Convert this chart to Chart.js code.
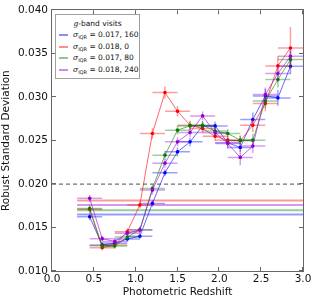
<!DOCTYPE html>
<html>
<head>
<meta charset="utf-8">
<script src="https://cdn.jsdelivr.net/npm/chart.js@4.4.0/dist/chart.umd.min.js"></script>
<style>
    html, body { margin: 0; padding: 0; background: #fff; }
    #wrap { position: relative; width: 314px; height: 304px; }
    #legend {
        position: absolute; left: 55px; top: 14px; width: 85px; height: 65px;
        box-sizing: border-box; border: 1px solid #a0a0a0; background: #fff;
        font-family: 'DejaVu Sans', sans-serif; font-size: 7.5px; color: #111;
    }
    #legend .title { position: absolute; left: 0; right: 0; top: 4px; text-align: center; }
    #legend .row { position: absolute; left: 3px; height: 9px; line-height: 9px; white-space: nowrap; }
    #legend .swatch { display: inline-block; width: 9px; height: 2px; vertical-align: middle; margin-right: 5px; opacity: 0.45; }
    #legend i { font-family: 'DejaVu Serif', serif; }
    #legend sub { font-size: 5px; vertical-align: -2px; line-height: 0; }
</style>
</head>
<body>
<div id="wrap">
    <canvas id="rsdChart" width="314" height="304"></canvas>
    <div id="legend">
        <div class="title"><i>g</i>-band visits</div>
    </div>
</div>
<script>
(function () {
    'use strict';

    // ── Data ────────────────────────────────────────────────
    const zBins      = [0.45, 0.60, 0.75, 0.90, 1.05, 1.20, 1.35, 1.50, 1.65, 1.80, 1.95, 2.10, 2.25, 2.40, 2.55, 2.70, 2.85];
    const zHalfWidth = 0.15;

    const blueVals   = [0.01624, 0.01300, 0.01318, 0.01368, 0.01400, 0.01778, 0.02130, 0.02371, 0.02486, 0.02670, 0.02670, 0.02475, 0.02422, 0.02744, 0.03015, 0.02992, 0.03356];
    const blueErr    = [0.0004, 0.0003, 0.0003, 0.0003, 0.0003, 0.0004, 0.0004, 0.0005, 0.0005, 0.0005, 0.0005, 0.0005, 0.0005, 0.0008, 0.0008, 0.0009, 0.0009];
    const redVals    = [0.01710, 0.01268, 0.01300, 0.01452, 0.01760, 0.02583, 0.03054, 0.02839, 0.02678, 0.02640, 0.02550, 0.02506, 0.02498, 0.02678, 0.02927, 0.03360, 0.03567];
    const redErr     = [0.0004, 0.0003, 0.0003, 0.0004, 0.0004, 0.0006, 0.0007, 0.0006, 0.0005, 0.0005, 0.0005, 0.0005, 0.0006, 0.0008, 0.0009, 0.0011, 0.0024];
    const greenVals  = [0.01720, 0.01290, 0.01287, 0.01390, 0.01475, 0.01950, 0.02333, 0.02621, 0.02670, 0.02678, 0.02610, 0.02583, 0.02506, 0.02506, 0.02957, 0.03203, 0.03433];
    const greenErr   = [0.0004, 0.0003, 0.0003, 0.0003, 0.0003, 0.0004, 0.0005, 0.0005, 0.0005, 0.0005, 0.0005, 0.0005, 0.0005, 0.0007, 0.0008, 0.0009, 0.0010];
    const purpleVals = [0.01836, 0.01372, 0.01340, 0.01435, 0.01471, 0.01931, 0.02241, 0.02486, 0.02594, 0.02785, 0.02590, 0.02468, 0.02307, 0.02437, 0.03031, 0.03272, 0.03471];
    const purpleErr  = [0.0004, 0.0003, 0.0003, 0.0003, 0.0004, 0.0005, 0.0005, 0.0005, 0.0005, 0.0005, 0.0006, 0.0006, 0.0009, 0.0008, 0.0008, 0.0010, 0.0011];

    const seriesNames  = ['0.017, 160', '0.018, 0', '0.017, 80', '0.018, 240'];
    const sigmaLevels  = [0.0165, 0.0181, 0.0170, 0.0176];   // blue, red, green, purple
    const sigmaLineZ   = [0.3, 3.0];
    const dashLevel    = 0.020;
    const dashLineZ    = [0.0, 3.0];

    const xTickVals = [0.0, 0.5, 1.0, 1.5, 2.0, 2.5, 3.0];
    const yTickVals = [0.010, 0.015, 0.020, 0.025, 0.030, 0.035, 0.040];

    const colors = ['#0000ff', '#ff0000', '#008000', '#9400d3'];
    const vals   = [blueVals, redVals, greenVals, purpleVals];
    const errs   = [blueErr, redErr, greenErr, purpleErr];

    function rgba(hex, a) {
        const n = parseInt(hex.slice(1), 16);
        return `rgba(${(n >> 16) & 255},${(n >> 8) & 255},${n & 255},${a})`;
    }

    // ── Datasets ────────────────────────────────────────────
    const datasets = [];

    // horizontal sigma_IQR reference lines (bottom layer)
    sigmaLevels.forEach((lvl, k) => {
        datasets.push({
            data: sigmaLineZ.map(z => ({ x: z, y: lvl })),
            borderColor: rgba(colors[k], 0.4),
            borderWidth: 2,
            pointRadius: 0,
            order: 20,
        });
    });

    // dashed 0.020 line
    datasets.push({
        data: dashLineZ.map(z => ({ x: z, y: dashLevel })),
        borderColor: 'rgba(0,0,0,0.7)',
        borderWidth: 1,
        borderDash: [4, 3],
        pointRadius: 0,
        order: 19,
    });

    // measured series: blue, red, green, purple (purple on top)
    vals.forEach((arr, k) => {
        datasets.push({
            data: arr.map((v, i) => ({ x: zBins[i], y: v })),
            yErr: errs[k],
            xErr: zHalfWidth,
            errColor: rgba(colors[k], 0.38),
            borderColor: rgba(colors[k], 0.6),
            borderWidth: 1,
            pointRadius: 1.8,
            pointBackgroundColor: colors[k],
            pointBorderWidth: 0,
            order: 10 - k,
        });
    });

    // ── Plugins: error bars + matplotlib-style frame ────────
    const errorBars = {
        id: 'errorBars',
        beforeDatasetDraw(chart, args) {
            const ds = chart.data.datasets[args.index];
            if (!ds.yErr) return;
            const { x, y } = chart.scales;
            const a   = chart.chartArea;
            const ctx = chart.ctx;
            ctx.save();
            ctx.beginPath();
            ctx.rect(a.left, a.top, a.width, a.height);
            ctx.clip();
            ctx.strokeStyle = ds.errColor;
            ctx.lineWidth   = 1.5;
            ds.data.forEach((p, i) => {
                const px = x.getPixelForValue(p.x);
                const py = y.getPixelForValue(p.y);
                ctx.beginPath();
                ctx.moveTo(x.getPixelForValue(p.x - ds.xErr), py);
                ctx.lineTo(x.getPixelForValue(p.x + ds.xErr), py);
                ctx.moveTo(px, y.getPixelForValue(p.y - ds.yErr[i]));
                ctx.lineTo(px, y.getPixelForValue(p.y + ds.yErr[i]));
                ctx.stroke();
            });
            ctx.restore();
        }
    };

    const frame = {
        id: 'frame',
        afterDraw(chart) {
            const { x, y } = chart.scales;
            const a   = chart.chartArea;
            const ctx = chart.ctx;
            const len = 4;
            ctx.save();
            ctx.strokeStyle = '#666';
            ctx.lineWidth   = 1;
            ctx.strokeRect(Math.round(a.left) - 0.5, Math.round(a.top) - 0.5,
                           Math.round(a.width) + 1, Math.round(a.height) + 1);
            ctx.beginPath();
            xTickVals.forEach(v => {
                const px = Math.round(x.getPixelForValue(v)) - 0.5;
                ctx.moveTo(px, a.bottom); ctx.lineTo(px, a.bottom - len);
                ctx.moveTo(px, a.top);    ctx.lineTo(px, a.top + len);
            });
            yTickVals.forEach(v => {
                const py = Math.round(y.getPixelForValue(v)) - 0.5;
                ctx.moveTo(a.left, py);  ctx.lineTo(a.left + len, py);
                ctx.moveTo(a.right, py); ctx.lineTo(a.right - len, py);
            });
            ctx.stroke();
            ctx.restore();
        }
    };

    const tickFont  = { family: "'DejaVu Sans', sans-serif", size: 10.5 };
    const titleFont = { family: "'DejaVu Sans', sans-serif", size: 10.5 };

    new Chart(document.getElementById('rsdChart'), {
        type: 'line',
        data: { datasets },
        plugins: [errorBars, frame],
        options: {
            responsive: false,
            animation:  false,
            devicePixelRatio: 1,
            layout: { padding: { left: 0, right: 11, top: 10, bottom: 0 } },
            plugins: { legend: { display: false }, tooltip: { enabled: false } },
            scales: {
                x: {
                    type: 'linear', min: 0, max: 3,
                    grid:   { display: false, drawTicks: false },
                    border: { display: false },
                    afterBuildTicks: s => { s.ticks = xTickVals.map(v => ({ value: v })); },
                    afterFit: s => { s.height = 33; },
                    ticks:  { font: tickFont, color: '#111', padding: 2, maxRotation: 0,
                              callback: v => Number(v).toFixed(1) },
                    title:  { display: true, text: 'Photometric Redshift', font: titleFont, color: '#111',
                              padding: { top: 0, bottom: 5 } }
                },
                y: {
                    type: 'linear', min: 0.010, max: 0.040,
                    grid:   { display: false, drawTicks: false },
                    border: { display: false },
                    afterBuildTicks: s => { s.ticks = yTickVals.map(v => ({ value: v })); },
                    afterFit: s => { s.width = 52; },
                    ticks:  { font: tickFont, color: '#111', padding: 4,
                              callback: v => Number(v).toFixed(3) },
                    title:  { display: true, text: 'Robust Standard Deviation', font: titleFont, color: '#111',
                              padding: { top: 0, bottom: 0 } }
                }
            }
        }
    });

    // ── HTML legend (needs subscripts) ──────────────────────
    const legend = document.getElementById('legend');
    const rowTops = [15, 26.7, 38.4, 50.1];
    seriesNames.forEach((name, k) => {
        const row = document.createElement('div');
        row.className = 'row';
        row.style.top = rowTops[k] + 'px';
        row.innerHTML = `<span class="swatch" style="background:${colors[k]}"></span>` +
                        `<i>σ</i><sub>IQR</sub> = ${name}`;
        legend.appendChild(row);
    });
})();
</script>
</body>
</html>
